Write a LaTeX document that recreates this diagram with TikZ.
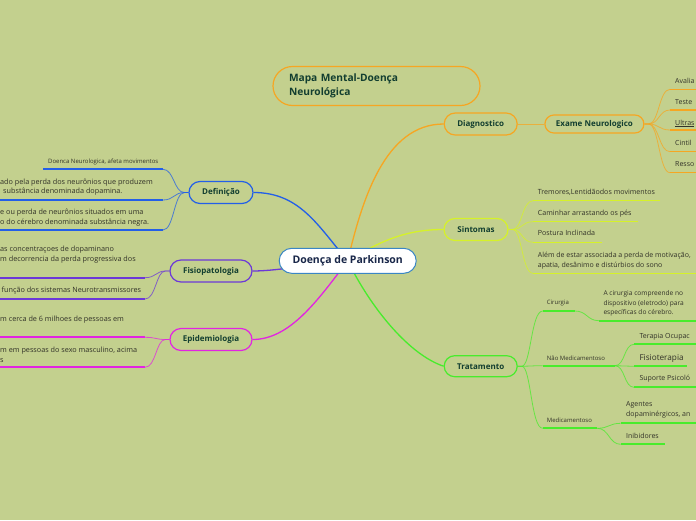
\documentclass[tikz,border=0pt]{standalone}
\usepackage{fontspec}
\setmainfont{Open Sans}
\pgfdeclarelayer{bgl}
\pgfsetlayers{bgl,main}
\definecolor{bg}{RGB}{195,208,142}
\definecolor{cblue}{RGB}{35,95,232}
\definecolor{cpurple}{RGB}{108,56,216}
\definecolor{cmag}{RGB}{226,36,226}
\definecolor{corange}{RGB}{246,166,34}
\definecolor{cyell}{RGB}{214,242,40}
\definecolor{cgreen}{RGB}{72,236,44}
\definecolor{ccent}{RGB}{58,134,196}
\definecolor{boxtext}{RGB}{18,62,48}
\definecolor{centtext}{RGB}{24,38,72}
\definecolor{leaftext}{RGB}{50,50,40}
\newcommand\fsz[2]{\fontsize{#1}{#2}\selectfont}
\begin{document}
\begin{tikzpicture}[x=1pt,y=-1pt,
  box/.style={draw, fill=bg, line width=1.2pt, rounded corners=11pt, minimum height=22pt, inner sep=0pt, text=boxtext, font=\bfseries\fsz{8}{9}},
  leaf/.style={anchor=west, inner sep=0pt, text=leaftext, align=left, font=\fsz{7}{9.7}},
  lleaf/.style={leaf, font=\fsz{7.25}{9.8}},
  one/.style={text height=5pt, text depth=1.5pt},
  tiny/.style={font=\fsz{6}{7}},
  ul/.style={line width=1.8pt},
  thinc/.style={line width=0.8pt, draw opacity=0.75},
  mainline/.style={line width=1.3pt}]
\useasboundingbox (0,0) rectangle (696,520);

% ---- nodes
\node[draw=ccent, fill=white, line width=1pt, rounded corners=12.5pt, minimum width=137pt, minimum height=25pt, inner sep=0pt, text=centtext, font=\bfseries\fsz{10.5}{12}] (cen) at (347.7,260.8) {Doença de Parkinson};
\node[draw=corange, line width=1.2pt, rounded corners=19.5pt, minimum height=39pt, text width=175pt, inner xsep=16pt, inner ysep=0pt, align=left, text=boxtext, font=\bfseries\fsz{10.2}{14}] (tit) at (376.5,86) {Mapa Mental-Doença\\Neurológica};

\node[box, draw=cblue, minimum width=64pt] (def) at (221,192.5) {Definição};
\node[box, draw=cpurple, minimum width=82pt] (fis) at (211,271) {Fisiopatologia};
\node[box, draw=cmag, minimum width=82pt] (epi) at (211,339.5) {Epidemiologia};
\node[box, draw=corange, minimum width=73pt] (dia) at (480.7,124) {Diagnostico};
\node[box, draw=corange, minimum width=99pt, minimum height=18pt, rounded corners=9pt] (exa) at (594.4,124) {Exame Neurologico};
\node[box, draw=cyell, minimum width=64pt] (sin) at (476,229.5) {Sintomas};
\node[box, draw=cgreen, minimum width=73pt, minimum height=21pt, rounded corners=10.5pt] (tra) at (480.7,366.2) {Tratamento};

% ---- Definicao leaves
\node[leaf, font=\fsz{6}{7}] (d1) at (48,161.7) {Doenca Neurologica, afeta movimentos};
\node[lleaf, font=\fsz{7.25}{9.5}] (d2) at (0,187.3) {ado pela perda dos neurônios que produzem\\\hspace*{3pt}substância denominada dopamina.};
\node[lleaf] (d3) at (0,217.2) {e ou perda de neurônios situados em uma\\o do cérebro denominada substância negra.};
\coordinate (d1a) at (43,169.3); \coordinate (d1b) at (163,169.3);
\coordinate (d2a) at (-3,200);   \coordinate (d2b) at (163,200);
\coordinate (d3a) at (-3,230);   \coordinate (d3b) at (163,230);

% ---- Fisiopatologia leaves
\node[lleaf, font=\fsz{7.25}{10}] (f1) at (0,255) {as concentraçoes de dopaminano\\m decorrencia da perda progressiva dos};
\node[lleaf, one] (f2) at (1.5,290.7) {função dos sistemas Neurotransmissores};
\coordinate (f1a) at (-3,277.7); \coordinate (f1b) at (145,277.7);
\coordinate (f2a) at (-3,299);   \coordinate (f2b) at (145,299);

% ---- Epidemiologia leaves
\node[lleaf, one] (e1) at (0,319.3) {m cerca de 6 milhoes de pessoas em};
\node[lleaf, font=\fsz{7.25}{10.5}] (e2) at (0,354.7) {m em pessoas do sexo masculino, acima\\s};
\coordinate (e1a) at (-3,337.3); \coordinate (e1b) at (145,337.3);
\coordinate (e2a) at (-3,367.3); \coordinate (e2b) at (145,367.3);

% ---- Exame leaves
\node[leaf, one] (x1) at (675,81.7) {Avalia};
\node[leaf, one] (x2) at (675,102.3) {Teste};
\node[leaf, one] (x3) at (675,123.3) {\underline{Ultras}};
\node[leaf, one] (x4) at (675,144) {Cintil};
\node[leaf, one] (x5) at (675,165) {Resso};
\coordinate (x1a) at (670,89.3);  \coordinate (x1b) at (700,89.3);
\coordinate (x2a) at (670,110);   \coordinate (x2b) at (700,110);
\coordinate (x3a) at (670,130);   \coordinate (x3b) at (700,130);
\coordinate (x4a) at (670,151.7); \coordinate (x4b) at (700,151.7);
\coordinate (x5a) at (670,172.7); \coordinate (x5b) at (700,172.7);

% ---- Sintomas leaves
\node[leaf, one, font=\fsz{7.1}{10}] (s1) at (537.7,192.7) {Tremores,Lentidãodos movimentos};
\node[leaf, one, font=\fsz{7.1}{10}] (s2) at (537.7,213.3) {Caminhar arrastando os pés};
\node[leaf, one, font=\fsz{7.1}{10}] (s3) at (537.7,234) {Postura Inclinada};
\node[leaf, font=\fsz{7}{10}] (s4) at (537.7,260.7) {Além de estar associada a perda de motivação,\\apatia, desânimo e distúrbios do sono};
\coordinate (s1a) at (533,200.7); \coordinate (s1b) at (660,200.7);
\coordinate (s2a) at (533,221.7); \coordinate (s2b) at (637.7,221.7);
\coordinate (s3a) at (533,242.3); \coordinate (s3b) at (601.7,242.3);
\coordinate (s4a) at (533,273.3); \coordinate (s4b) at (700,273.3);

% ---- Tratamento leaves
\node[leaf, tiny] (c1) at (546.7,302.7) {Cirurgia};
\node[leaf, font=\fsz{6.6}{9.5}] (c2) at (603.3,303.5) {A cirurgia compreende no\\dispositivo (eletrodo) para\\específicas do cérebro.};
\node[leaf, tiny] (n1) at (546.7,358.3) {Não Medicamentoso};
\node[leaf, one] (t1) at (639.3,336.3) {Terapia Ocupac};
\node[leaf, font=\fsz{8.2}{10}] (t2) at (639.3,358) {Fisioterapia};
\node[leaf, one] (t3) at (639.3,379) {Suporte Psicoló};
\node[leaf, tiny] (m1) at (546.7,420) {Medicamentoso};
\node[leaf, font=\fsz{7}{10}] (g1) at (626,410) {Agentes\\dopaminérgicos, an};
\node[leaf, one] (g2) at (626,436.7) {Inibidores};
\coordinate (c1a) at (542.7,311);   \coordinate (c1b) at (575,311);
\coordinate (c2a) at (599,320.7);   \coordinate (c2b) at (700,320.7);
\coordinate (n1a) at (542.7,365.7); \coordinate (n1b) at (615,365.7);
\coordinate (t1a) at (634,344.3);   \coordinate (t1b) at (700,344.3);
\coordinate (t2a) at (634,366.3);   \coordinate (t2b) at (686.7,366.3);
\coordinate (t3a) at (634,387.3);   \coordinate (t3b) at (700,387.3);
\coordinate (m1a) at (542.7,428.3); \coordinate (m1b) at (597.3,428.3);
\coordinate (g1a) at (620.7,423.3); \coordinate (g1b) at (700,423.3);
\coordinate (g2a) at (620.7,444.3); \coordinate (g2b) at (665,444.3);

\begin{pgfonlayer}{bgl}
\fill[bg] (0,0) rectangle (696,520);
% main connectors
\draw[mainline, cblue] (def.east) .. controls (300,192.5) and (318,226) .. (cen.center);
\draw[mainline, corange] (cen.center) .. controls (362,200) and (385,124) .. (dia.west);
\draw[mainline, cyell] (cen.center) .. controls (385,238) and (410,229.5) .. (sin.west);
\draw[mainline, cpurple] (fis.east) .. controls (275,271) and (300,266) .. (cen.center);
\draw[mainline, cmag] (cen.center) .. controls (318,300) and (290,339.5) .. (epi.east);
\draw[mainline, cgreen] (cen.center) .. controls (372,310) and (410,355) .. (tra.west);
\draw[thinc, corange] (dia.east) -- (exa.west);

% Definicao
\foreach \k/\yy in {d1/169.3,d2/200,d3/230}{
  \draw[thinc, cblue] (def.west) -- ++(-4,0) .. controls (174,192.5) and (174,\yy) .. (\k b);
  \draw[ul, cblue] (\k a) -- (\k b);}
% Fisiopatologia
\foreach \k/\yy in {f1/277.7,f2/299}{
  \draw[thinc, cpurple] (fis.west) -- ++(-4,0) .. controls (156,271) and (156,\yy) .. (\k b);
  \draw[ul, cpurple] (\k a) -- (\k b);}
% Epidemiologia
\foreach \k/\yy in {e1/337.3,e2/367.3}{
  \draw[thinc, cmag] (epi.west) -- ++(-4,0) .. controls (156,339.5) and (156,\yy) .. (\k b);
  \draw[ul, cmag] (\k a) -- (\k b);}
% Exame
\foreach \k/\yy in {x1/89.3,x2/110,x3/130,x4/151.7,x5/172.7}{
  \draw[thinc, corange] (exa.east) -- ++(4,0) .. controls (659,124) and (659,\yy) .. (\k a);
  \draw[line width=1.5pt, corange] (\k a) -- (\k b);}
% Sintomas
\foreach \k/\yy in {s1/200.7,s2/221.7,s3/242.3,s4/273.3}{
  \draw[thinc, cyell] (sin.east) -- ++(4,0) .. controls (522,229.5) and (522,\yy) .. (\k a);
  \draw[line width=1.5pt, cyell] (\k a) -- (\k b);}
% Tratamento
\foreach \k/\yy in {c1/311,n1/365.7,m1/428.3}{
  \draw[thinc, cgreen] (tra.east) -- ++(4,0) .. controls (531,366.2) and (531,\yy) .. (\k a);
  \draw[ul, cgreen] (\k a) -- (\k b);}
\draw[thinc, cgreen] (c1b) .. controls (587,311) and (587,320.7) .. (c2a);
\draw[ul, cgreen] (c2a) -- (c2b);
\foreach \k/\yy in {t1/344.3,t2/366.3,t3/387.3}{
  \draw[thinc, cgreen] (n1b) .. controls (625,365.7) and (624,\yy) .. (\k a);
  \draw[ul, cgreen] (\k a) -- (\k b);}
\foreach \k/\yy in {g1/423.3,g2/444.3}{
  \draw[thinc, cgreen] (m1b) .. controls (609,428.3) and (609,\yy) .. (\k a);
  \draw[ul, cgreen] (\k a) -- (\k b);}
\end{pgfonlayer}
\end{tikzpicture}
\end{document}
